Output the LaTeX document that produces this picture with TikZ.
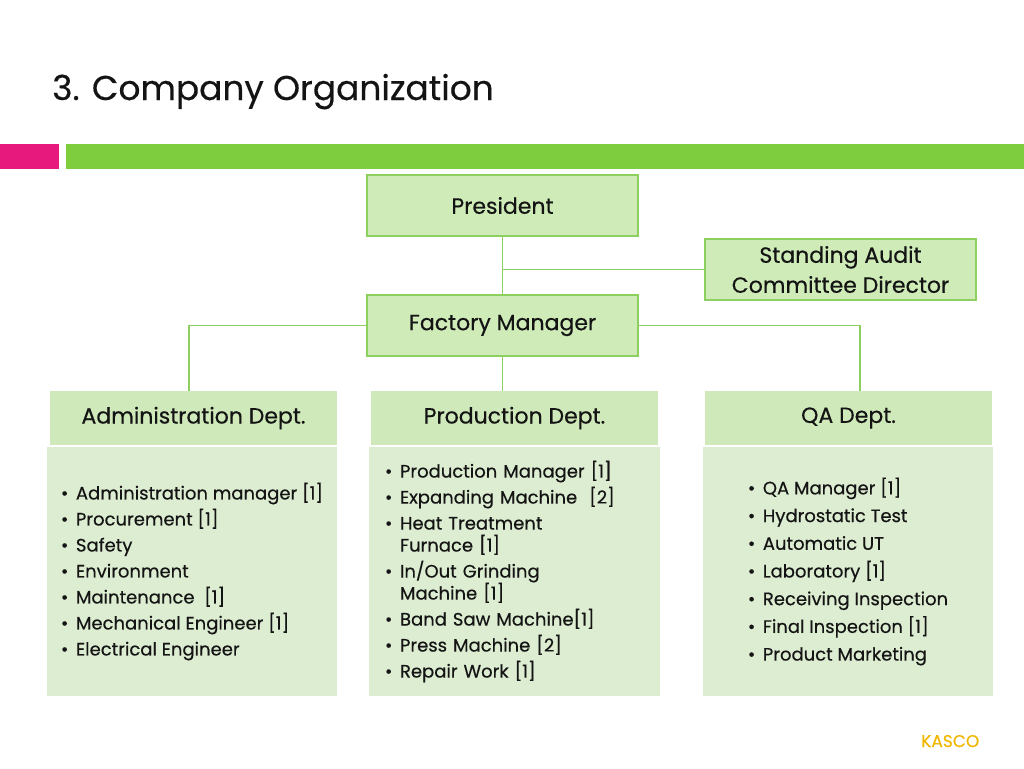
\documentclass[tikz,border=0pt]{standalone}
\usepackage{fontspec}
\setmainfont{Poppins}[FakeBold=0.4]
\usetikzlibrary{positioning}
\definecolor{boxfill}{RGB}{206,235,184}
\definecolor{boxline}{RGB}{141,208,95}
\definecolor{headfill}{RGB}{207,233,186}
\definecolor{bodyfill}{RGB}{221,237,210}
\definecolor{barpink}{RGB}{232,25,125}
\definecolor{bargreen}{RGB}{125,205,62}
\definecolor{kasco}{RGB}{240,182,0}
\definecolor{ink}{RGB}{20,20,20}
\newcommand{\itm}{\makebox[15pt][l]{\textbullet}}
\newcommand{\cnt}{\hspace*{15pt}}
\begin{document}
\begin{tikzpicture}[x=1pt,y=-1pt,
    role/.style={draw=boxline,line width=1.2pt,fill=boxfill,minimum width=271pt,minimum height=61pt,
      text=ink,font=\fontsize{22}{30}\selectfont,align=center,inner sep=0pt},
    dept/.style={fill=headfill,minimum width=287pt,minimum height=54pt,text=ink,
      font=\fontsize{22}{30}\selectfont,inner sep=0pt},
    duties/.style={fill=bodyfill,minimum width=290pt,minimum height=249pt,text=ink,
      font=\fontsize{18}{26}\selectfont,align=left,inner sep=0pt},
    conn/.style={draw=boxline,line width=1.1pt}]
  \useasboundingbox (0,0) rectangle (1024,768);
  \fill[barpink] (0,144) rectangle (59,169);
  \fill[bargreen] (66,144) rectangle (1024,169);
  \node[anchor=base west,inner sep=0pt,text=ink,font=\fontsize{34.4}{40}\selectfont] (title) at (52,100) {3. Company Organization};

  \node[role] (P) at (502.5,205.5) {President};
  \node[role] (SA) at (840.5,269.5) {Standing Audit\\Committee Director};
  \node[role] (FM) at (502.5,325.5) {Factory Manager};

  \node[dept] (AD) at (193.5,418) {Administration Dept.};
  \node[dept] (PD) at (514.5,418) {Production Dept.};
  \node[dept] (QD) at (848.5,418) {QA Dept.};

  \node[duties] (ADlist) at (192,571.5) {\itm Administration manager [1]\\ \itm Procurement [1]\\ \itm Safety\\
    \itm Environment\\ \itm Maintenance\ \ [1]\\ \itm Mechanical Engineer [1]\\ \itm Electrical Engineer};
  \node[duties,text width=259pt,minimum width=291pt] (PDlist) at (514.5,571.5) {\itm Production Manager [1]\\
    \itm Expanding Machine\ \ [2]\\ \itm Heat Treatment\\[-4pt] \cnt Furnace [1]\\ \itm In/Out Grinding\\[-4pt]
    \cnt Machine [1]\\ \itm Band Saw Machine[1]\\ \itm Press Machine [2]\\ \itm Repair Work [1]};
  \node[duties,font=\fontsize{18}{27.7}\selectfont] (QDlist) at (848,571.5) {\itm QA Manager [1]\\ \itm Hydrostatic Test\\
    \itm Automatic UT\\ \itm Laboratory [1]\\ \itm Receiving Inspection\\ \itm Final Inspection [1]\\ \itm Product Marketing};

  \node[anchor=base west,inner sep=0pt,text=kasco,font=\fontsize{17}{20}\selectfont] (brand) at (921,747) {KASCO};

  \draw[conn] (P) -- (FM);
  \draw[conn] (SA.west) -- (SA.west -| P.south);
  \draw[conn] (FM.west) -| ([xshift=-4.5pt]AD.north);
  \draw[conn] (FM.east) -| ([xshift=11.5pt]QD.north);
  \draw[conn] (FM.south) -- (FM.south |- PD.north);
\end{tikzpicture}
\end{document}
